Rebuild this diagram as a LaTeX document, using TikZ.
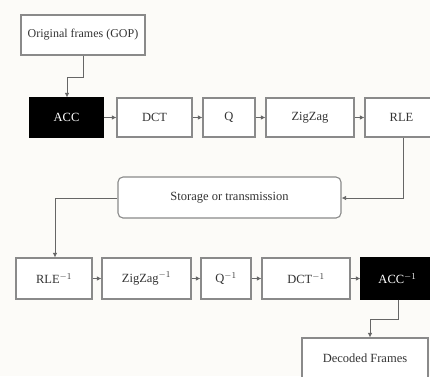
\documentclass[tikz,border=0pt]{standalone}
\usepackage{fontspec}
\setmainfont{Liberation Serif}
\usetikzlibrary{arrows.meta}
\definecolor{bgc}{HTML}{FCFBF8}
\definecolor{linec}{HTML}{666666}
\definecolor{boxc}{HTML}{8A8A8A}
\definecolor{txtc}{HTML}{333333}
\tikzset{
  blk/.style={draw=boxc, line width=1.1pt, fill=white, text=txtc, inner sep=0pt,
    font=\fontsize{12.5}{14}\selectfont, anchor=center},
  darkblk/.style={blk, fill=black, draw=black, text=white},
  conn/.style={draw=linec, line width=0.8pt, -{Latex[length=4.5pt,width=4.5pt]}}
}
\begin{document}
\begin{tikzpicture}[x=1pt,y=-1pt]
\useasboundingbox (0,0) rectangle (430,376);
\fill[bgc] (0,0) rectangle (430,376);
% top
\node[blk, minimum width=124pt, minimum height=40pt, font=\fontsize{12}{14}\selectfont] (orig) at (83,35) {Original frames (GOP)};
\node[darkblk, minimum width=73pt, minimum height=39pt] (acc) at (66.5,117.5) {ACC};
\node[blk, minimum width=75pt, minimum height=39pt] (dct) at (154.5,117.5) {DCT};
\node[blk, minimum width=52pt, minimum height=39pt] (q) at (229,117.5) {Q};
\node[blk, minimum width=88pt, minimum height=39pt] (zz) at (310,117.5) {ZigZag};
\node[blk, minimum width=73pt, minimum height=39pt] (rle) at (401.5,117.5) {RLE};
% storage
\node[blk, rounded corners=5pt, minimum width=223pt, minimum height=41pt] (st) at (229.5,197.5) {Storage or transmission};
% bottom row
\node[blk, minimum width=76pt, minimum height=41pt] (irle) at (54,278.5) {RLE$^{-1}$};
\node[blk, minimum width=89pt, minimum height=41pt] (izz) at (146.5,278.5) {ZigZag$^{-1}$};
\node[blk, minimum width=50pt, minimum height=41pt] (iq) at (226,278.5) {Q$^{-1}$};
\node[blk, minimum width=88pt, minimum height=41pt] (idct) at (306,278.5) {DCT$^{-1}$};
\node[darkblk, minimum width=73pt, minimum height=41pt] (iacc) at (397.5,278.5) {ACC$^{-1}$};
\node[blk, minimum width=126pt, minimum height=40pt] (dec) at (365,358) {Decoded Frames};
% connectors
\coordinate (c1) at (83,77);
\coordinate (c2) at (67,77);
\draw[conn] (orig.south -| c1) -- (c1) -- (c2) -- (c2 |- acc.north);
\draw[conn] (acc) -- (dct);
\draw[conn] (dct) -- (q);
\draw[conn] (q) -- (zz);
\draw[conn] (zz) -- (rle);
\coordinate (c3) at (403,198);
\draw[conn] (rle.south -| c3) -- (c3) -- (c3 -| st.east);
\coordinate (c4) at (55,198);
\draw[conn] (c4 -| st.west) -- (c4) -- (c4 |- irle.north);
\draw[conn] (irle) -- (izz);
\draw[conn] (izz) -- (iq);
\draw[conn] (iq) -- (idct);
\draw[conn] (idct) -- (iacc);
\coordinate (c5) at (398,319);
\coordinate (c6) at (370,319);
\draw[conn] (iacc.south -| c5) -- (c5) -- (c6) -- (c6 |- dec.north);
\end{tikzpicture}
\end{document}
